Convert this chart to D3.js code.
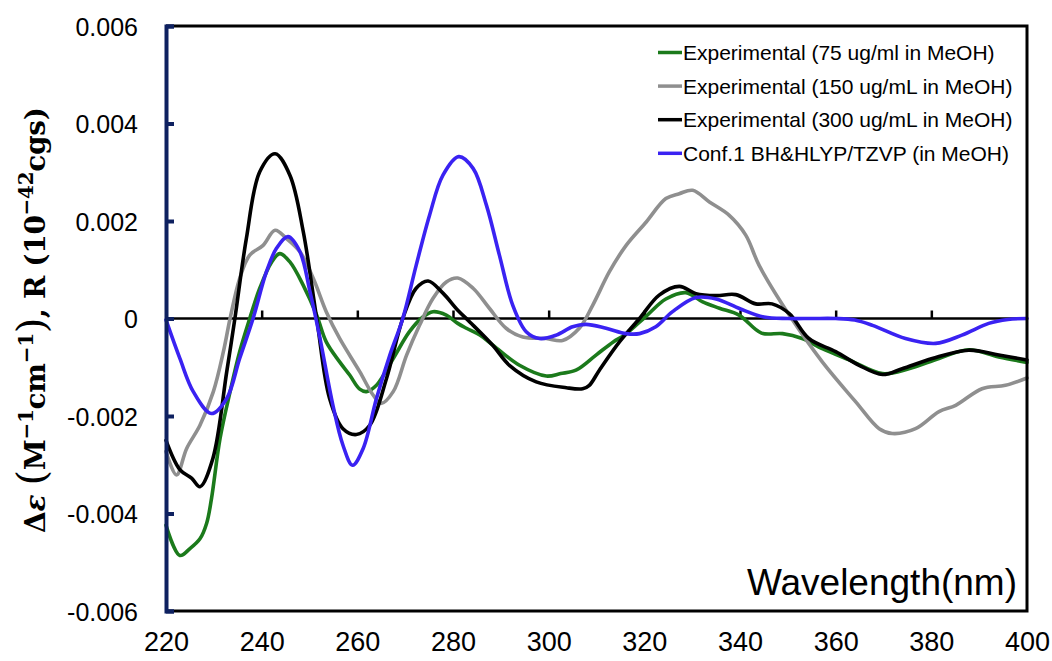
<!DOCTYPE html>
<html>
<head>
<meta charset="utf-8">
<script src="https://cdn.jsdelivr.net/npm/d3@7"></script>
<style>
  html, body { margin: 0; padding: 0; background: #fff; }
  svg { display: block; }
</style>
</head>
<body>
<svg id="chart" width="1052" height="661"></svg>
<script>
// CD spectra: wavelength (nm) and Δε / R values
const wl75 = [220,222.9,225,227.1,228.5,229.5,231.3,233.4,235.4,237.5,239.6,242.1,243.8,245.9,248.7,251.5,253.5,256.3,258.4,260.5,261.9,264,267.5,270.9,273.7,275.8,278.6,281,282.8,285.6,288.4,293.9,299.5,302.5,305.7,309.9,313.5,316,320.4,324.5,328.7,332.2,335.7,339.8,344.5,348.9,353,357.2,362.8,369.8,375.3,381.6,387.8,394.1,400];
const cd75 = [-0.00424,-0.00486,-0.00472,-0.00452,-0.0042,-0.0037,-0.00246,-0.0015,-0.00068,0,0.00062,0.00116,0.00133,0.00116,0.00068,0.00007,-0.00048,-0.00089,-0.00116,-0.00145,-0.0015,-0.00137,-0.00082,-0.00027,0.00003,0.00014,0.00007,-0.0001,-0.0002,-0.00034,-0.00055,-0.00096,-0.00118,-0.00113,-0.00106,-0.00075,-0.00048,-0.00033,0.00005,0.0004,0.00053,0.00034,0.00021,0.00007,-0.0003,-0.00031,-0.00041,-0.00062,-0.00085,-0.00113,-0.00103,-0.00082,-0.00064,-0.00079,-0.0009];

const wl150 = [220,222.2,224.3,227.1,229.9,232,233.4,235.4,237.5,240.3,242.8,245.2,248,250.8,253.5,256.3,260.5,263.3,265,267.5,270.3,273,275.8,278.6,281,284.2,287.6,291.1,294.6,299.5,302.9,306.4,309.2,312.7,316.2,320.4,324.5,327.3,330.1,333.6,337.7,341.2,344,350.3,357.2,364.2,369.1,371.8,376.7,381.6,385.1,390.6,395.5,400];
const cd150 = [-0.00273,-0.00321,-0.00267,-0.00219,-0.0015,-0.00068,0,0.00082,0.0013,0.0015,0.00181,0.00164,0.00137,0.00082,0.00014,-0.00041,-0.00109,-0.00157,-0.00174,-0.0015,-0.00075,-0.00014,0.00041,0.00075,0.00083,0.00062,0.00021,-0.0002,-0.00038,-0.00041,-0.00045,-0.0002,0.00027,0.00096,0.0015,0.00198,0.00246,0.00256,0.00263,0.00239,0.00212,0.00171,0.00109,0.00007,-0.00089,-0.00171,-0.00226,-0.00236,-0.00226,-0.00191,-0.00178,-0.00144,-0.00137,-0.00122];

const wl300 = [220,222.9,225.4,227.1,229.8,232.7,234.4,236.8,239.6,242.8,245.9,248.7,251.5,254.2,257,259.8,262.6,266.1,269.5,272.3,274.8,277.9,281,283.5,288.3,291.8,297.4,303.7,307.1,308.5,310.6,314.8,319,323.1,327.3,330.8,335,339.1,343.3,346.7,350.3,354.4,360,364.9,369.8,373.9,380.2,387.8,394.1,400];
const cd300 = [-0.0025,-0.0031,-0.00328,-0.00345,-0.00287,-0.00109,0,0.00164,0.00301,0.00338,0.00294,0.00178,0,-0.00164,-0.00226,-0.00238,-0.00219,-0.00123,0,0.00062,0.00077,0.00052,0.00017,-0.00007,-0.00055,-0.00096,-0.0013,-0.00142,-0.00144,-0.00137,-0.00106,-0.00048,0,0.00048,0.00066,0.00051,0.00047,0.00049,0.0003,0.0003,0.0001,-0.00041,-0.00068,-0.00096,-0.00115,-0.00103,-0.00082,-0.00065,-0.00075,-0.00085];

const wlCalc = [220,222.9,225.7,229.5,232.7,235.4,238.2,241,243.1,245.5,248,250.1,252.2,254.9,257,259,261.2,264,266.8,269.5,272.3,275.1,277.9,281.2,284.2,287,289.7,292.5,295.3,298.1,301.6,305,307.8,312,316.2,319,322.4,325.9,330.8,335,340,345,350,355,360,364,367.7,374.6,380.9,386.4,392,396,400];
const cdCalc = [-0.00003,-0.00082,-0.0015,-0.00195,-0.00164,-0.00082,0,0.00096,0.00144,0.00168,0.00137,0.00055,-0.00041,-0.00178,-0.0026,-0.00301,-0.00267,-0.00164,-0.00075,0,0.00109,0.00212,0.00294,0.00332,0.00308,0.00232,0.0013,0.00027,-0.00027,-0.00041,-0.00034,-0.00017,-0.00012,-0.0002,-0.00031,-0.00031,-0.00017,0.00014,0.00043,0.0004,0.0002,0.00003,0,0,0,-0.00003,-0.00014,-0.00041,-0.00051,-0.00034,-0.0001,-0.00002,0];

const seriesNames = [
  "Experimental (75 ug/ml in MeOH)",
  "Experimental (150 ug/mL in MeOH)",
  "Experimental (300 ug/mL in MeOH)",
  "Conf.1 BH&HLYP/TZVP (in MeOH)"
];
const seriesColors = ["#1b7a1b", "#8f8f8f", "#000000", "#3a22f2"];

const xTicks = [220,240,260,280,300,320,340,360,380,400];
const yTicks = [-0.006,-0.004,-0.002,0,0.002,0.004,0.006];

const series = [
  { wl: wl75,   cd: cd75 },
  { wl: wl150,  cd: cd150 },
  { wl: wl300,  cd: cd300 },
  { wl: wlCalc, cd: cdCalc }
].map((s, i) => ({
  name: seriesNames[i],
  color: seriesColors[i],
  points: s.wl.map((w, j) => [w, s.cd[j]])
}));

const svg = d3.select("#chart");
const plotL = 166, plotR = 1027, plotT = 26, plotB = 611;

const x = d3.scaleLinear().domain([220, 400]).range([plotL, plotR]);
const y = d3.scaleLinear().domain([-0.006, 0.006]).range([plotB, plotT]);

// zero baseline with small upward ticks
svg.append("line")
  .attr("x1", plotL).attr("x2", plotR)
  .attr("y1", y(0)).attr("y2", y(0))
  .attr("stroke", "#000").attr("stroke-width", 2.5);

const zeroAxis = svg.append("g")
  .attr("transform", `translate(0,${y(0)})`)
  .call(d3.axisBottom(x).tickValues(xTicks.slice(1, -1)).tickSize(-8).tickFormat(""));
zeroAxis.select(".domain").remove();
zeroAxis.selectAll(".tick line").attr("stroke", "#000").attr("stroke-width", 2.5);

// spectra
const line = d3.line()
  .x(d => x(d[0]))
  .y(d => y(d[1]))
  .curve(d3.curveCatmullRom.alpha(0.5));

svg.append("g").selectAll("path")
  .data(series)
  .join("path")
  .attr("d", d => line(d.points))
  .attr("fill", "none")
  .attr("stroke", d => d.color)
  .attr("stroke-width", 3.6)
  .attr("stroke-linejoin", "round")
  .attr("stroke-linecap", "round");

// frame: top, right, bottom
svg.append("path")
  .attr("d", `M${plotL},${plotT}H${plotR}V${plotB}H${plotL}`)
  .attr("fill", "none")
  .attr("stroke", "#000")
  .attr("stroke-width", 3);

// x tick labels along the bottom
const xLab = svg.append("g")
  .attr("transform", `translate(0,${plotB})`)
  .call(d3.axisBottom(x).tickValues(xTicks).tickSize(0).tickPadding(21).tickFormat(d3.format("d")));
xLab.select(".domain").remove();
xLab.selectAll("text")
  .style("font-size", "27px")
  .style("font-family", "'Liberation Sans', Arial, sans-serif")
  .attr("fill", "#000");

// y axis (navy), ticks pointing inward
const yAxis = svg.append("g")
  .attr("transform", `translate(${plotL},0)`)
  .call(d3.axisLeft(y).tickValues(yTicks).tickSize(-8).tickPadding(28)
        .tickFormat(d => d === 0 ? "0" : d3.format(".3f")(d).replace("−", "-")));
yAxis.select(".domain").attr("stroke", "#0e2160").attr("stroke-width", 4);
yAxis.selectAll(".tick line").attr("stroke", "#0e2160").attr("stroke-width", 4);
yAxis.selectAll("text")
  .style("font-size", "25px")
  .style("font-family", "'Liberation Sans', Arial, sans-serif")
  .attr("fill", "#000")
  .attr("dy", "0.36em");

// y-axis title: Δε (M⁻¹cm⁻¹), R (10⁻⁴²cgs)
const yt = svg.append("text")
  .attr("transform", "translate(45,320) rotate(-90)")
  .attr("text-anchor", "middle")
  .attr("textLength", 426)
  .attr("lengthAdjust", "spacing")
  .style("font-family", "'DejaVu Serif', 'Liberation Serif', serif")
  .style("font-weight", "bold")
  .style("font-size", "28px")
  .attr("fill", "#000");
const part = (txt, opts = {}) => {
  const t = yt.append("tspan").text(txt);
  if (opts.size) t.style("font-size", opts.size + "px");
  if (opts.italic) t.style("font-style", "italic");
  if (opts.weight) t.style("font-weight", opts.weight);
  if (opts.dy) t.attr("dy", opts.dy);
  return t;
};
part("Δ");
part("ε", { italic: true });
part(" ");
part("(", { size: 40, weight: "normal" });
part("M");
part("−1", { size: 20, dy: -12 });
part("cm", { dy: 12 });
part("−1", { size: 20, dy: -12 });
part(")", { size: 40, weight: "normal", dy: 12 });
part(", R (10");
part("−42", { size: 20, dy: -12 });
part("cgs)", { dy: 12 });

// x-axis title inside the plot
svg.append("text")
  .attr("x", 1017).attr("y", 595)
  .attr("text-anchor", "end")
  .style("font-family", "'Liberation Sans', Arial, sans-serif")
  .style("font-size", "37px")
  .attr("fill", "#000")
  .text("Wavelength(nm)");

// legend
const legend = svg.append("g").attr("transform", "translate(658,60)");
const rows = legend.selectAll("g")
  .data(series)
  .join("g")
  .attr("transform", (d, i) => `translate(0,${i * 33.6})`);
rows.append("line")
  .attr("x1", 0).attr("x2", 24)
  .attr("y1", -7.5).attr("y2", -7.5)
  .attr("stroke", d => d.color)
  .attr("stroke-width", 3.5);
rows.append("text")
  .attr("x", 25)
  .style("font-family", "'Liberation Sans', Arial, sans-serif")
  .style("font-size", "21px")
  .attr("fill", "#000")
  .text(d => d.name);
</script>
</body>
</html>
